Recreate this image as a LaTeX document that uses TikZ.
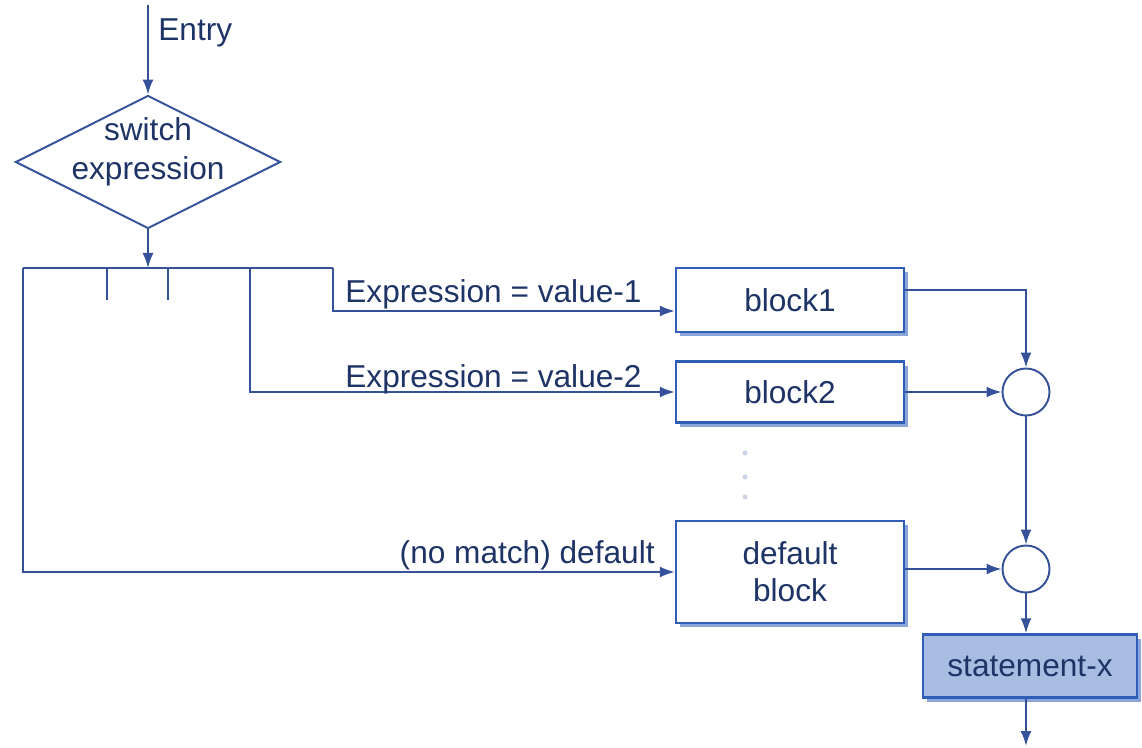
\documentclass[tikz,border=0pt]{standalone}
\usepackage{fontspec}
\setmainfont{Liberation Sans}
\usetikzlibrary{shapes.geometric,arrows.meta,shadows}
\definecolor{lnblue}{HTML}{34519A}
\definecolor{txtblue}{HTML}{1E3466}
\definecolor{boxblue}{HTML}{2F5DB8}
\definecolor{stfill}{HTML}{A9BDE2}
\tikzset{
  flow/.style={draw=lnblue, line width=1.1pt},
  arr/.style={flow, -{Latex[length=3mm,width=2.2mm]}},
  lbl/.style={text=txtblue, font=\fontsize{18}{21}\selectfont, inner sep=0pt},
  blockbox/.style={draw=boxblue, line width=1.4pt, fill=white, text=txtblue,
    font=\fontsize{18}{21}\selectfont, align=center, minimum width=4.56cm,
    drop shadow={shadow xshift=2pt, shadow yshift=-2.5pt, fill=boxblue!70, opacity=.8}},
  joint/.style={circle, draw=lnblue, line width=1.1pt, fill=white, minimum size=0.94cm, inner sep=0pt},
}
\begin{document}
\begin{tikzpicture}
	\useasboundingbox (0,0) rectangle (22.84,-14.96);
	% decision
	\coordinate (entry) at (2.96,-0.1);
	\node[diamond, aspect=2, draw=lnblue, line width=1.1pt,
	  minimum width=5.3cm, minimum height=2.66cm, inner sep=0pt] (sw) at (2.96,-3.24) {};
	\node[lbl, align=center, font=\fontsize{18}{22}\selectfont] (swlbl) at ([yshift=0.2cm]sw.center) {switch\\expression};
	\node[lbl, anchor=west] (entrylbl) at (3.16,-0.66) {Entry};
	\draw[arr] (entry) -- (sw.north);
	% bus
	\coordinate (busL) at (0.46,-5.36);
	\coordinate (busR) at (6.66,-5.36);
	\coordinate (bus2) at (5.0,-5.36);
	\draw[arr] (sw.south) -- (sw.south |- busL);
	\draw[flow] (busL) -- (busR);
	\foreach \x in {2.14,3.36}
	  \draw[flow] (\x,-5.36) -- (\x,-6.0);
	% blocks
	\node[blockbox, minimum height=1.28cm] (block1) at (15.8,-6.0) {block1};
	\node[blockbox, minimum height=1.22cm] (block2) at (15.8,-7.84) {block2};
	\node[blockbox, minimum height=2.04cm] (dflt) at (15.8,-11.44) {default\\block};
	\foreach \y in {-9.06,-9.54,-9.94}
	  \fill[lnblue!25] (14.9,\y) circle (0.05);
	% joins
	\node[joint] (m1) at (20.52,-7.84) {};
	\node[joint] (m2) at (20.52,-11.38) {};
	\node[blockbox, fill=stfill, minimum width=4.28cm, minimum height=1.26cm] (stmt) at (20.6,-13.32) {statement-x};
	\coordinate (exit) at (20.52,-14.92);
	% cases
	\draw[arr] (busR) |- ([yshift=-0.22cm]block1.west);
	\draw[arr] (bus2) |- (block2.west);
	\draw[arr] (busL) |- (dflt.west);
	\node[lbl, anchor=base west] (lab1) at (6.9,-6.04) {Expression = value-1};
	\node[lbl, anchor=base west] (lab2) at (6.9,-7.74) {Expression = value-2};
	\node[lbl, anchor=base east] (lab3) at (13.1,-11.26) {(no match) default};
	% merge
	\draw[arr] ([yshift=0.2cm]block1.east) -| (m1.north);
	\draw[arr] (block2.east) -- (m1.west);
	\draw[arr] (m1.south) -- (m2.north);
	\draw[arr] (dflt.east |- m2) -- (m2.west);
	\draw[arr] (m2.south) -- (m2.south |- stmt.north);
	\draw[arr] (stmt.south -| exit) -- (exit);
\end{tikzpicture}
\end{document}
